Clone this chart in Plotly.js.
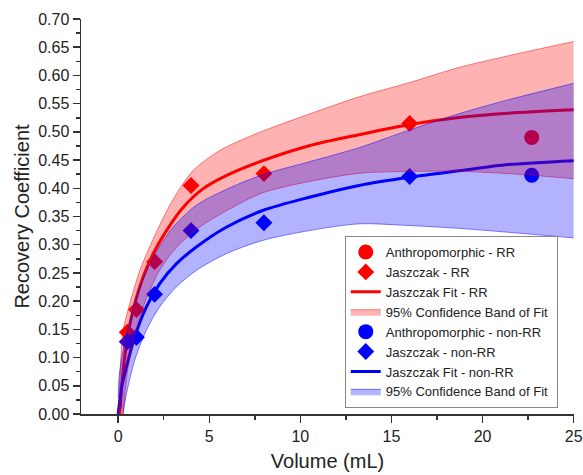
<!DOCTYPE html>
<html><head><meta charset="utf-8">
<script src="https://cdn.plot.ly/plotly-3.0.1.min.js"></script>
<style>html,body{margin:0;padding:0;background:#fff}#chart{width:583px;height:475px}</style>
</head><body><div id="chart"></div>
<script>
// Measured points
const jasVolumes = [0.5, 1, 2, 4, 8, 16];
const jasRR = [0.145, 0.185, 0.27, 0.405, 0.426, 0.515];
const jasNonRR = [0.128, 0.136, 0.212, 0.325, 0.339, 0.421];
const anthroVolume = [22.7];
const anthroRR = [0.490];
const anthroNonRR = [0.423];

// Fit curves
const fitRRX = [0.09, 0.24, 0.46, 0.82, 1.37, 1.92, 2.65, 3.56, 4.65, 5.93, 7.93, 10.49, 13.22, 15.96, 18.69, 21.43, 25];
const fitRRY = [0, 0.066, 0.125, 0.184, 0.243, 0.284, 0.325, 0.366, 0.399, 0.4225, 0.449, 0.4755, 0.495, 0.5126, 0.5256, 0.533, 0.539];
const fitNonRRX = [0, 0.19, 0.46, 0.91, 1.55, 2.28, 3.19, 4.29, 5.93, 7.93, 10.49, 13.22, 15.96, 18.69, 21.43, 25];
const fitNonRRY = [0, 0.048, 0.084, 0.137, 0.19, 0.231, 0.266, 0.296, 0.331, 0.3606, 0.384, 0.405, 0.4195, 0.431, 0.442, 0.449];

// 95% confidence bands
const bandRRUpX = [0.03, 0.1, 0.27, 0.64, 1.19, 1.92, 3.01, 4.1, 5.56, 7.75, 10.49, 13.22, 15.96, 18.69, 21.43, 25];
const bandRRUpY = [0, 0.07, 0.148, 0.196, 0.2545, 0.31, 0.38, 0.431, 0.4667, 0.499, 0.5315, 0.562, 0.587, 0.614, 0.635, 0.660];
const bandRRLowX = [0.27, 0.55, 1.0, 1.55, 2.28, 3.19, 4.47, 5.93, 7.93, 10.49, 13.22, 15.96, 18.69, 21.43, 25];
const bandRRLowY = [0, 0.085, 0.15, 0.205, 0.255, 0.295, 0.331, 0.36, 0.392, 0.412, 0.4266, 0.430, 0.430, 0.426, 0.417];
const bandNonRRUpX = [0, 0.05, 0.27, 0.64, 1.19, 1.92, 3.01, 4.29, 5.93, 7.93, 10.49, 13.22, 15.96, 18.69, 21.43, 25];
const bandNonRRUpY = [0.03, 0.066, 0.113, 0.166, 0.225, 0.278, 0.331, 0.37, 0.398, 0.424, 0.447, 0.472, 0.503, 0.532, 0.557, 0.586];
const bandNonRRLowX = [0.27, 0.46, 0.91, 1.55, 2.28, 3.19, 4.29, 5.93, 7.93, 10.49, 13.22, 15.96, 18.69, 21.43, 25];
const bandNonRRLowY = [0, 0.0366, 0.0955, 0.1485, 0.19, 0.225, 0.2545, 0.284, 0.3076, 0.325, 0.337, 0.334, 0.329, 0.322, 0.312];

const RED = '#FF0000', BLUE = '#0000FF';
const FONT = 'Arial, "Liberation Sans", sans-serif';

const traces = [
  {x: fitRRX, y: fitRRY, mode: 'lines', name: 'Jaszczak Fit - RR', legendrank: 3,
   line: {color: RED, width: 3, shape: 'spline', smoothing: 0.8}},
  {x: fitNonRRX, y: fitNonRRY, mode: 'lines', name: 'Jaszczak Fit - non-RR', legendrank: 7,
   line: {color: BLUE, width: 3, shape: 'spline', smoothing: 0.8}},
  {x: jasVolumes, y: jasRR, mode: 'markers', name: 'Jaszczak - RR', legendrank: 2,
   marker: {symbol: 'diamond', size: 13, color: RED}},
  {x: jasVolumes, y: jasNonRR, mode: 'markers', name: 'Jaszczak - non-RR', legendrank: 6,
   marker: {symbol: 'diamond', size: 13, color: BLUE}},
  {x: anthroVolume, y: anthroRR, mode: 'markers', name: 'Anthropomorphic - RR', legendrank: 1,
   marker: {symbol: 'circle', size: 15, color: RED}},
  {x: anthroVolume, y: anthroNonRR, mode: 'markers', name: 'Anthropomorphic - non-RR', legendrank: 5,
   marker: {symbol: 'circle', size: 15, color: BLUE}},
  {x: bandRRLowX, y: bandRRLowY, mode: 'lines', showlegend: false,
   line: {color: 'rgba(255,0,0,0.6)', width: 0.8, shape: 'spline', smoothing: 0.8}},
  {x: bandRRUpX, y: bandRRUpY, mode: 'lines', fill: 'tonexty', fillcolor: 'rgba(255,0,0,0.3)',
   name: '95% Confidence Band of Fit', legendrank: 4,
   line: {color: 'rgba(255,0,0,0.6)', width: 0.8, shape: 'spline', smoothing: 0.8}},
  {x: bandNonRRLowX, y: bandNonRRLowY, mode: 'lines', showlegend: false,
   line: {color: 'rgba(0,0,255,0.6)', width: 0.8, shape: 'spline', smoothing: 0.8}},
  {x: bandNonRRUpX, y: bandNonRRUpY, mode: 'lines', fill: 'tonexty', fillcolor: 'rgba(0,0,255,0.3)',
   name: '95% Confidence Band of Fit ', legendrank: 8,
   line: {color: 'rgba(0,0,255,0.6)', width: 0.8, shape: 'spline', smoothing: 0.8}}
];

const axisCommon = {
  showline: true, linecolor: '#333', linewidth: 1.5, mirror: false,
  ticks: 'outside', ticklen: 7, tickwidth: 1.5, tickcolor: '#333',
  showgrid: false, zeroline: false,
  tickfont: {family: FONT, size: 16, color: '#222'}
};

const layout = {
  width: 583, height: 475,
  margin: {l: 81, r: 9, t: 19, b: 61},
  paper_bgcolor: '#fff', plot_bgcolor: '#fff',
  font: {family: FONT, color: '#222'},
  showlegend: true,
  xaxis: Object.assign({}, axisCommon, {
    range: [-2.04, 25.02], tick0: 0, dtick: 5,
    minor: {dtick: 2.5, ticks: 'outside', ticklen: 4, tickwidth: 1.5, tickcolor: '#333', showgrid: false},
    title: {text: 'Volume (mL)', font: {family: FONT, size: 20, color: '#222'}, standoff: 10}
  }),
  yaxis: Object.assign({}, axisCommon, {
    range: [0, 0.70], tick0: 0, dtick: 0.05, tickformat: '.2f',
    minor: {dtick: 0.025, ticks: 'outside', ticklen: 4, tickwidth: 1.5, tickcolor: '#333', showgrid: false},
    title: {text: 'Recovery Coefficient', font: {family: FONT, size: 20, color: '#222'}, standoff: 3}
  }),
  legend: {
    x: 0.535, y: 0.015, xanchor: 'left', yanchor: 'bottom',
    bgcolor: '#fff', bordercolor: '#888', borderwidth: 1,
    font: {family: FONT, size: 13, color: '#222'},
    traceorder: 'normal'
  }
};

Plotly.newPlot('chart', traces, layout, {staticPlot: true, displayModeBar: false});
</script></body></html>
